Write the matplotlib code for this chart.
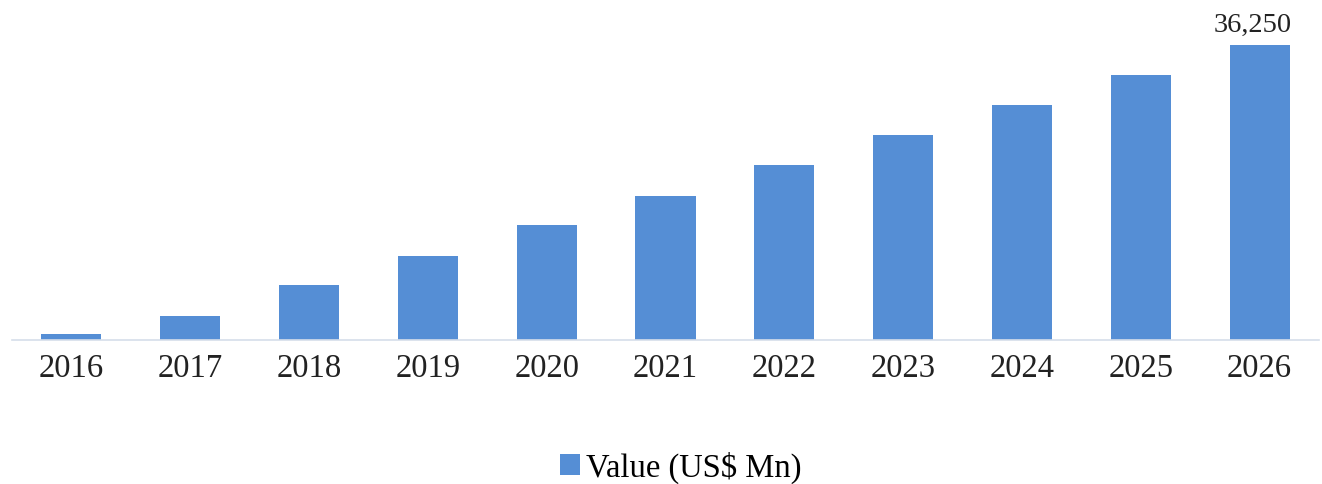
import matplotlib.pyplot as plt

years = ["2016", "2017", "2018", "2019", "2020", "2021", "2022", "2023", "2024", "2025", "2026"]
values = [800, 2950, 6760, 10320, 14130, 17700, 21500, 25190, 28880, 32560, 36250]

plt.rcParams["font.family"] = ["Liberation Serif", "DejaVu Serif"]

fig = plt.figure(figsize=(13.22, 4.85), dpi=100)
ax = fig.add_axes([12 / 1322, (485 - 341) / 485, (1319 - 12) / 1322, 325 / 485])

x = range(len(years))
bars = ax.bar(x, values, width=0.505, color="#558ED5", label="Value (US$ Mn)")

ax.set_xlim(-0.5, len(years) - 0.5)
ax.set_ylim(0, 40000)
ax.set_xticks(list(x))
ax.set_xticklabels(years, fontsize=23.5, color="#222222")
ax.tick_params(axis="x", length=0, pad=9)
ax.set_yticks([])
for s in ["top", "right", "left"]:
    ax.spines[s].set_visible(False)
ax.spines["bottom"].set_color("#D6DEEA")
ax.spines["bottom"].set_linewidth(1.2)

# label only the last bar
ax.text(len(years) - 1.06, values[-1] + 1000, "{:,}".format(values[-1]),
        ha="center", va="bottom", fontsize=20.5, color="#222222")

fig.legend(handles=[bars], labels=["Value (US$ Mn)"], loc="center",
           bbox_to_anchor=(0.515, 0.035), frameon=False, fontsize=23.5,
           handlelength=0.6, handleheight=0.6, handletextpad=0.2)

fig.savefig("out.png", dpi=100)
